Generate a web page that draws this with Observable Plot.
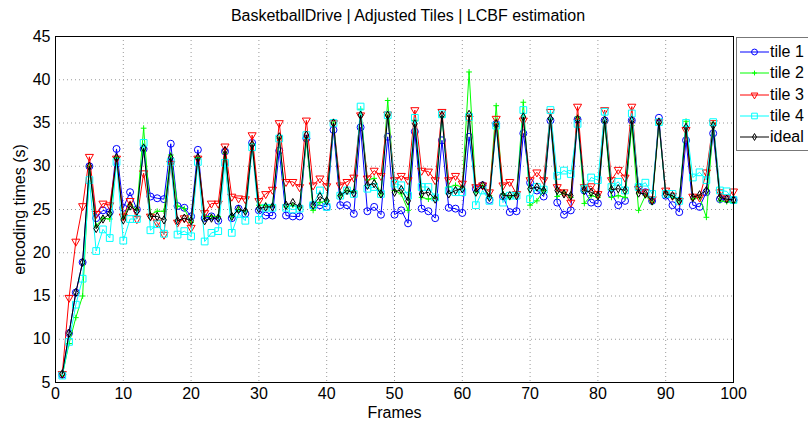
<!DOCTYPE html>
<html>
<head>
<meta charset="utf-8">
<script src="https://cdn.jsdelivr.net/npm/d3@7"></script>
<script src="https://cdn.jsdelivr.net/npm/@observablehq/plot@0.6"></script>
<style>
  html, body { margin: 0; padding: 0; background: #fff; }
  #wrap { position: relative; width: 808px; height: 421px; overflow: hidden; font-family: "Liberation Sans", Arial, sans-serif; }
  #title { position: absolute; left: 69px; width: 678px; top: 7px; text-align: center; font-size: 16px; color: #000; }
  #legend { position: absolute; left: 736px; top: 37px; width: 80px; height: 114px; border: 1px solid #777; background: #fff; box-sizing: border-box; }
  .item { position: absolute; left: 3px; height: 20px; display: flex; align-items: center; font-size: 16px; }
  .item svg { margin-right: 1px; }
</style>
</head>
<body>
<div id="wrap">
  <div id="chart"></div>
  <div id="title">BasketballDrive | Adjusted Tiles | LCBF estimation</div>
  <div id="legend"></div>
</div>
<script>
const frames = d3.range(1, 101);
const xTicks = [0, 10, 20, 30, 40, 50, 60, 70, 80, 90, 100];
const yTicks = [5, 10, 15, 20, 25, 30, 35, 40, 45];

const tile1 = [5.9,10.7,15.4,18.9,30.0,24.0,24.9,24.7,32.0,25.2, 27.0,25.0,32.0,26.5,26.3,26.2,32.6,25.4,25.2,24.2, 31.9,24.0,24.2,23.7,31.7,24.0,25.1,24.5,32.7,24.9, 24.3,24.3,31.8,24.3,24.2,24.2,33.2,25.5,25.5,25.3, 34.2,25.5,25.5,24.5,34.5,24.8,25.3,24.4,33.4,24.4, 24.9,23.4,34.0,25.1,24.8,24.0,33.0,25.2,25.1,24.6, 33.4,27.4,27.8,26.1,34.9,26.5,24.7,24.8,33.8,28.1, 27.2,26.5,35.3,25.8,24.4,24.9,35.4,27.2,25.8,25.7, 35.3,26.8,25.5,26.0,35.3,27.6,27.0,26.0,35.6,26.6, 25.5,24.7,33.0,25.5,25.3,27.0,33.8,26.2,26.2,26.1];
const tile2 = [5.8,9.5,12.5,15.0,30.0,23.1,24.0,23.9,31.0,24.0, 25.6,25.0,34.4,24.4,24.8,24.8,31.3,25.4,25.1,23.5, 31.0,24.2,24.2,24.2,31.5,24.2,25.0,24.8,32.6,25.5, 25.5,25.5,33.2,25.3,25.5,25.2,33.0,24.9,25.8,26.0, 35.0,26.6,27.2,27.1,36.6,28.4,28.6,26.8,37.6,27.2, 26.8,24.9,35.3,26.4,26.2,26.4,35.7,27.6,27.8,27.6, 40.9,27.0,27.8,26.6,37.0,26.8,26.4,26.8,37.4,25.5, 26.0,27.2,35.5,26.5,27.0,26.4,35.7,25.7,26.6,26.4, 35.1,26.4,26.6,26.4,34.7,24.9,26.6,25.8,34.9,26.9, 26.4,26.0,35.2,26.2,26.4,24.1,35.0,26.0,25.9,25.8];
const tile3 = [6.0,14.8,21.3,25.4,31.1,24.5,25.7,25.5,30.9,24.2, 26.0,23.9,29.2,24.2,23.5,22.1,30.3,23.5,24.0,22.9, 30.9,24.6,25.7,25.7,32.3,26.5,26.3,26.2,33.6,26.0, 26.8,27.3,35.0,28.2,28.2,27.6,35.3,27.8,28.6,27.7, 35.0,27.8,28.2,28.7,35.9,28.6,29.5,28.9,36.0,28.4, 28.9,28.4,36.5,29.5,29.4,28.4,36.3,28.4,28.9,28.0, 35.5,27.6,27.8,27.0,35.5,27.8,28.2,26.8,35.3,28.4, 29.3,28.4,36.3,27.6,27.0,25.8,36.9,27.6,27.7,26.8, 36.5,28.4,29.6,28.7,36.9,27.4,27.0,26.2,35.1,27.2, 26.6,26.0,34.2,26.5,26.4,29.3,35.0,27.0,26.4,27.1];
const tile4 = [5.8,9.7,14.0,17.0,28.4,20.2,22.7,21.7,30.5,21.4, 23.9,23.9,32.7,22.6,23.3,22.2,30.5,22.1,22.5,21.9, 30.5,21.3,22.3,22.5,30.4,22.3,24.5,23.7,32.2,23.8, 25.2,25.2,33.2,25.2,25.0,25.1,33.6,25.5,27.2,25.3, 35.0,26.6,27.2,26.8,36.9,27.4,27.6,26.8,35.9,28.0, 27.8,26.6,35.6,27.6,27.6,26.4,36.0,27.2,27.0,27.0, 35.7,25.5,27.2,26.0,34.7,25.8,26.6,26.6,36.5,26.2, 27.6,27.3,36.5,28.9,29.5,29.1,34.9,27.4,28.7,28.4, 36.3,27.6,28.2,27.2,36.1,27.6,28.1,26.8,35.1,26.8, 26.8,26.0,35.0,28.7,29.3,28.4,35.1,27.2,27.1,26.1];
const ideal = [6.0,10.7,15.4,18.9,30.0,22.8,23.9,24.5,31.0,23.8, 25.4,24.8,32.1,24.2,24.2,23.8,31.0,23.7,24.0,23.7, 31.0,23.7,24.0,24.0,31.8,24.2,25.0,24.8,32.5,25.1, 25.3,25.3,33.4,25.5,25.8,25.3,33.6,25.5,26.5,26.0, 35.0,26.6,27.2,26.9,35.9,27.8,28.0,26.8,35.9,27.0, 27.3,26.0,34.9,26.8,27.0,26.2,35.9,26.8,27.2,27.4, 36.0,27.0,27.8,26.4,34.9,26.6,26.6,26.6,35.7,27.4, 27.6,27.2,35.5,27.2,26.8,26.6,35.4,27.2,27.0,26.6, 35.3,27.3,27.4,27.2,35.3,26.9,26.8,26.0,35.1,26.8, 26.6,26.0,34.5,26.4,26.7,27.2,34.7,26.4,26.2,26.1];

const seriesNames = ["tile 1", "tile 2", "tile 3", "tile 4", "ideal"];
const seriesValues = [tile1, tile2, tile3, tile4, ideal];
const styles = [
  {color: "#0000ff", symbol: "circle", r: 3.5, rotate: 0},
  {color: "#00ff00", symbol: "plus", r: 2, rotate: 0},
  {color: "#ff0000", symbol: "triangle", r: 3, rotate: 180},
  {color: "#00ffff", symbol: "square", r: 3.8, rotate: 0},
  {color: "#000000", symbol: "diamond", r: 2.5, rotate: 0}
];

const marks = [
  Plot.gridX(xTicks, {stroke: "#000", strokeOpacity: 0.4, strokeDasharray: "1,3"}),
  Plot.gridY(yTicks, {stroke: "#000", strokeOpacity: 0.4, strokeDasharray: "1,3"}),
];
seriesValues.forEach((vals, k) => {
  const s = styles[k];
  const data = frames.map((f, i) => ({frame: f, value: vals[i]}));
  marks.push(Plot.line(data, {x: "frame", y: "value", stroke: s.color, strokeWidth: 1}));
  marks.push(Plot.dot(data, {x: "frame", y: "value", stroke: s.color, fill: "none", symbol: s.symbol, r: s.r, rotate: s.rotate, strokeWidth: 1}));
});
marks.push(Plot.frame({stroke: "#000"}));
marks.push(Plot.axisX(xTicks, {tickSize: 0, tickPadding: 5, label: "Frames", labelAnchor: "center", labelArrow: "none", labelOffset: 35, fontSize: 16}));
marks.push(Plot.axisY(yTicks, {tickSize: 0, tickPadding: 5, label: "encoding times (s)", labelAnchor: "center", labelArrow: "none", labelOffset: 42, fontSize: 16}));

const chart = Plot.plot({
  width: 808,
  height: 421,
  marginLeft: 55,
  marginRight: 75,
  marginTop: 36,
  marginBottom: 39,
  style: {fontFamily: "'Liberation Sans', Arial, sans-serif", fontSize: "16px", color: "#000", background: "#fff"},
  x: {domain: [0, 100]},
  y: {domain: [5, 45]},
  marks
});
document.getElementById("chart").appendChild(chart);

// legend
const legend = document.getElementById("legend");
seriesNames.forEach((name, k) => {
  const s = styles[k];
  const item = document.createElement("div");
  item.className = "item";
  item.style.top = (4 + k * 21.3) + "px";
  const svg = d3.create("svg").attr("width", 29).attr("height", 20);
  svg.append("line").attr("x1", 0).attr("x2", 29).attr("y1", 10).attr("y2", 10).attr("stroke", s.color).attr("stroke-width", 1);
  const symMap = {circle: d3.symbolCircle, plus: d3.symbolPlus, triangle: d3.symbolTriangle, square: d3.symbolSquare, diamond: d3.symbolDiamond};
  svg.append("path").attr("d", d3.symbol(symMap[s.symbol], Math.PI * s.r * s.r * 0.7)())
    .attr("transform", `translate(14.5,10) rotate(${s.rotate})`)
    .attr("fill", "none").attr("stroke", s.color).attr("stroke-width", 1);
  item.appendChild(svg.node());
  const t = document.createElement("span");
  t.textContent = name;
  item.appendChild(t);
  legend.appendChild(item);
});
</script>
</body>
</html>
